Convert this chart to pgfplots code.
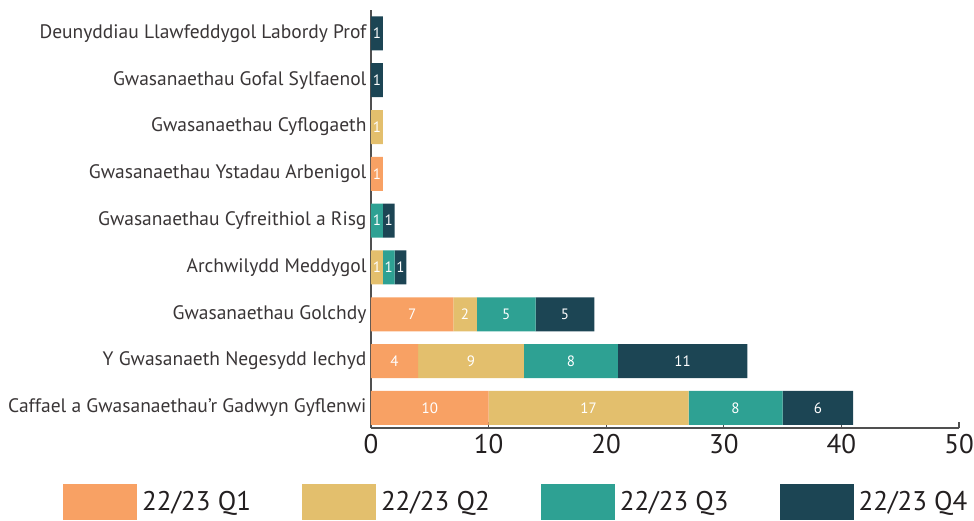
\documentclass[border=0pt]{standalone}
\usepackage{pgfplots}
\usepackage{pgfplotstable}
\pgfplotsset{compat=1.18}
\usepackage{fontspec}
\setmainfont{PT Sans}
\definecolor{cq1}{HTML}{F8A164}
\definecolor{cq2}{HTML}{E3BF6D}
\definecolor{cq3}{HTML}{2EA193}
\definecolor{cq4}{HTML}{1C4554}
\definecolor{axgray}{HTML}{505050}
\definecolor{txt}{HTML}{231F20}
\pgfplotstableread{
y q1 q2 q3 q4
0 10 17 8 6
1 4 9 8 11
2 7 2 5 5
3 0 1 1 1
4 0 0 1 1
5 1 0 0 0
6 0 1 0 0
7 0 0 0 1
8 0 0 0 1
}\data
% label positions (segment centres) and values
\pgfplotstableread{
y mid lab
0 5 10
0 18.5 17
0 31 8
0 38 6
1 2 4
1 8.5 9
1 17 8
1 26.5 11
2 3.5 7
2 8 2
2 11.5 5
2 16.5 5
3 0.5 1
3 1.5 1
3 2.5 1
4 0.5 1
4 1.5 1
5 0.5 1
6 0.5 1
7 0.5 1
8 0.5 1
}\labels
\pgfplotsset{
  segstyle/.style={draw=none, fill=#1},
  common/.style={
    at={(0pt,0pt)}, anchor=south west,
    scale only axis,
    width=588pt, height=418pt,
    xmin=0, xmax=50,
    ymin=-0.43, ymax=8.5,
  },
}
\begin{document}
\begin{tikzpicture}
\useasboundingbox (-371pt,-93pt) rectangle (603pt,428pt);
\begin{axis}[
  common,
  xbar stacked,
  bar width=34pt,
  xtick={0,10,20,30,40,50},
  ytick={0,1,2,3,4,5,6,7,8},
  yticklabels={Caffael a Gwasanaethau’r Gadwyn Gyflenwi, Y Gwasanaeth Negesydd Iechyd, Gwasanaethau Golchdy, Archwilydd Meddygol, Gwasanaethau Cyfreithiol a Risg, Gwasanaethau Ystadau Arbenigol, Gwasanaethau Cyflogaeth, Gwasanaethau Gofal Sylfaenol, Deunyddiau Llawfeddygol Labordy Prof},
  axis x line*=bottom,
  axis y line*=left,
  axis line style={axgray, line width=1.3pt, -},
  x tick style={axgray, line width=1.3pt},
  xtick align=inside,
  major tick length=6pt,
  y tick style={draw=none},
  /pgf/number format/assume math mode=true,
  xticklabel style={font=\fontsize{27}{32}\selectfont, text=txt, yshift=-3pt},
  yticklabel style={font=\fontsize{19.5}{23}\selectfont, text=txt!90, xshift=-1pt},
  legend columns=4,
  legend style={at={(-0.5238,-0.177)}, anchor=west, draw=none, fill=none, inner sep=0pt,
    font=\fontsize{27}{32}\selectfont, text=txt,
    nodes={inner xsep=1pt},
    /tikz/every odd column/.append style={column sep=4pt},
    /tikz/every even column/.append style={column sep=50pt}},
  legend image code/.code={\fill[#1] (0pt,-18pt) rectangle (74pt,18pt);},
]
\addplot+[segstyle=cq1] table[x=q1, y=y]{\data};
\addlegendentry{22/23 Q1}
\addplot+[segstyle=cq2] table[x=q2, y=y]{\data};
\addlegendentry{22/23 Q2}
\addplot+[segstyle=cq3] table[x=q3, y=y]{\data};
\addlegendentry{22/23 Q3}
\addplot+[segstyle=cq4] table[x=q4, y=y]{\data};
\addlegendentry{22/23 Q4}
\end{axis}
\begin{axis}[
  common,
  hide axis,
]
\addplot[only marks, mark=none, draw=none,
  nodes near coords, point meta=explicit symbolic,
  every node near coord/.style={text=white, font=\fontsize{15}{17}\selectfont, anchor=center, inner sep=0pt},
] table[x=mid, y=y, meta=lab]{\labels};
\end{axis}
\end{tikzpicture}
\end{document}
